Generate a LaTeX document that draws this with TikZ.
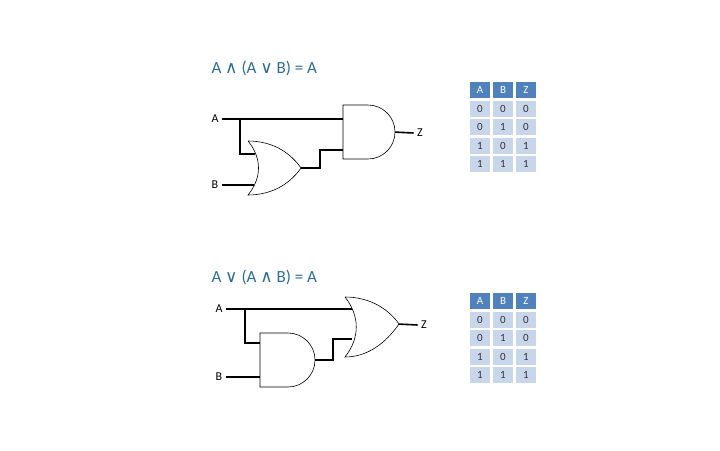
\documentclass[tikz,border=0pt]{standalone}
\usepackage{fontspec}
\setmainfont{Carlito}
\newfontfamily\symf{DejaVu Sans}
\definecolor{hdc}{HTML}{4F81BD}
\definecolor{clc}{HTML}{C8D6EB}
\definecolor{tt}{HTML}{2A6D96}
\begin{document}
\begin{tikzpicture}[x=1pt,y=-1pt,
  wire/.style={line width=1.6pt},
  gate/.style={draw,line width=0.6pt,fill=white},
  lbl/.style={font=\fontsize{12}{14}\selectfont},
  ttl/.style={text=tt,font=\fontsize{17}{20}\selectfont,anchor=west},
  hd/.style={fill=hdc,text=white,minimum width=20pt,minimum height=16pt,inner sep=0pt,font=\fontsize{11}{12}\selectfont},
  cl/.style={fill=clc,text=black!80,minimum width=20pt,minimum height=16pt,inner sep=0pt,font=\fontsize{11}{12}\selectfont}]
\useasboundingbox (0,0) rectangle (720,450);
% ---------- top
\node[ttl] (t1) at (208,68) {A {\symf ∧} (A {\symf ∨} B) = A};
\node[lbl] (a1) at (215,119) {A};
\node[lbl] (b1) at (215,185) {B};
\node[lbl] (z1) at (420,133) {Z};
\coordinate (j1) at (240,119);
\draw[wire] (a1.east) -- (345,119);
\draw[wire] (j1) |- (255,154);
\draw[wire] (b1.east) -- (254,185);
\draw[wire] (299,168) -- (320,168) -- (320,150) -- (345,150);
\draw[wire] (393,132) -- (z1.west);
\draw[gate] (343,105) -- (368,105) arc (90:-90:27pt) -- (343,159) -- cycle;
\draw[gate] (248,141) .. controls (275,141) and (292,155) .. (301,168) .. controls (292,181) and (275,195) .. (248,195) .. controls (262,178) and (262,158) .. (248,141);
% ---------- bottom
\node[ttl] (t2) at (208,277) {A {\symf ∨} (A {\symf ∧} B) = A};
\node[lbl] (a2) at (219,309) {A};
\node[lbl] (b2) at (219,377) {B};
\node[lbl] (z2) at (424,325) {Z};
\coordinate (j2) at (245,309);
\draw[wire] (a2.east) -- (353,309);
\draw[wire] (j2) |- (262,343);
\draw[wire] (b2.east) -- (262,377);
\draw[wire] (313,360) -- (333,360) -- (333,339) -- (352,339);
\draw[wire] (397,324) -- (z2.west);
\draw[gate] (260,333) -- (288,333) arc (90:-90:27pt) -- (260,387) -- cycle;
\draw[gate] (345,297) .. controls (372,297) and (390,311) .. (399,324) .. controls (390,337) and (372,357) .. (345,357) .. controls (360,338) and (360,316) .. (345,297);
% ---------- tables
\foreach \yy/\nm in {90/T, 301/U}{
  \foreach \h [count=\i] in {A,B,Z}
    \node[hd] (\nm h\i) at (480+23*\i-23,\yy) {\h};
  \foreach \r/\va/\vb/\vz in {1/0/0/0,2/0/1/0,3/1/0/1,4/1/1/1}{
    \node[cl] (\nm a\r) at (480,\yy+18.5*\r) {\va};
    \node[cl] (\nm b\r) at (503,\yy+18.5*\r) {\vb};
    \node[cl] (\nm c\r) at (526,\yy+18.5*\r) {\vz};
  }
}
\end{tikzpicture}
\end{document}
